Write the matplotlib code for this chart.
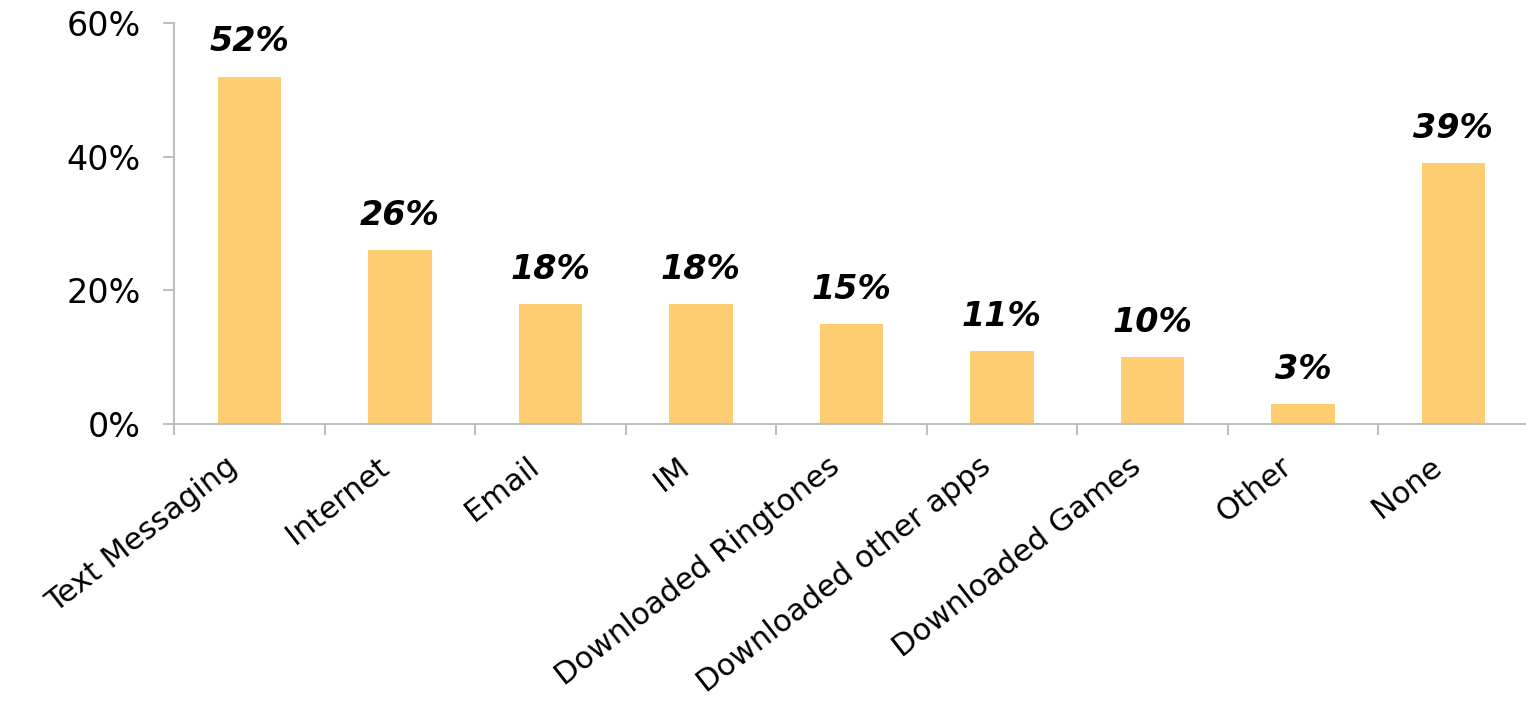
import matplotlib.pyplot as plt
from matplotlib.ticker import FixedLocator, FuncFormatter
from matplotlib.transforms import ScaledTranslation

plt.rcParams['font.family'] = ['DejaVu Sans']

categories = ["Text Messaging", "Internet", "Email", "IM", "Downloaded Ringtones",
              "Downloaded other apps", "Downloaded Games", "Other", "None"]
values = [52, 26, 18, 18, 15, 11, 10, 3, 39]

bar_color = "#FECC71"
axis_color = "#BFBFBF"

fig = plt.figure(figsize=(15.26, 7.08), dpi=100)
ax = fig.add_axes([0.1142, 0.401, 0.8876, 0.5664])

x = list(range(len(categories)))
ax.bar(x, values, width=0.42, color=bar_color, zorder=2)

for xi, v in zip(x, values):
    ax.annotate(f"{v}%", (xi, v), xytext=(0, 13), textcoords="offset points",
                ha="center", va="bottom", fontsize=24, fontweight="bold",
                fontstyle="italic")

ax.set_xlim(-0.5, len(categories) - 0.5)
ax.set_ylim(0, 60)
ax.set_yticks([0, 20, 40, 60])
ax.yaxis.set_major_formatter(FuncFormatter(lambda v, p: f"{v:.0f}%"))

# category ticks sit between the bars, labels at bar centres
ax.xaxis.set_major_locator(FixedLocator([i - 0.5 for i in range(len(categories) + 1)]))
ax.xaxis.set_major_formatter(FuncFormatter(lambda v, p: ""))
ax.xaxis.set_minor_locator(FixedLocator(x))
ax.set_xticklabels(categories, minor=True, rotation=38, ha="right", va="top",
                   rotation_mode="anchor", fontsize=22)
ax.tick_params(axis="x", which="minor", length=0, pad=20)
ax.tick_params(axis="x", which="major", length=8, width=1.5, color=axis_color,
               direction="out")
ax.tick_params(axis="y", length=8, width=1.5, color=axis_color, labelsize=24, pad=16)

# nudge the slanted labels left so they end just short of the bar centre
shift = ScaledTranslation(-0.24, 0, fig.dpi_scale_trans)
for lbl in ax.get_xticklabels(minor=True):
    lbl.set_transform(lbl.get_transform() + shift)

for side in ("top", "right"):
    ax.spines[side].set_visible(False)
for side in ("left", "bottom"):
    ax.spines[side].set_color(axis_color)
    ax.spines[side].set_linewidth(1.5)

fig.savefig("out.png", dpi=100)
